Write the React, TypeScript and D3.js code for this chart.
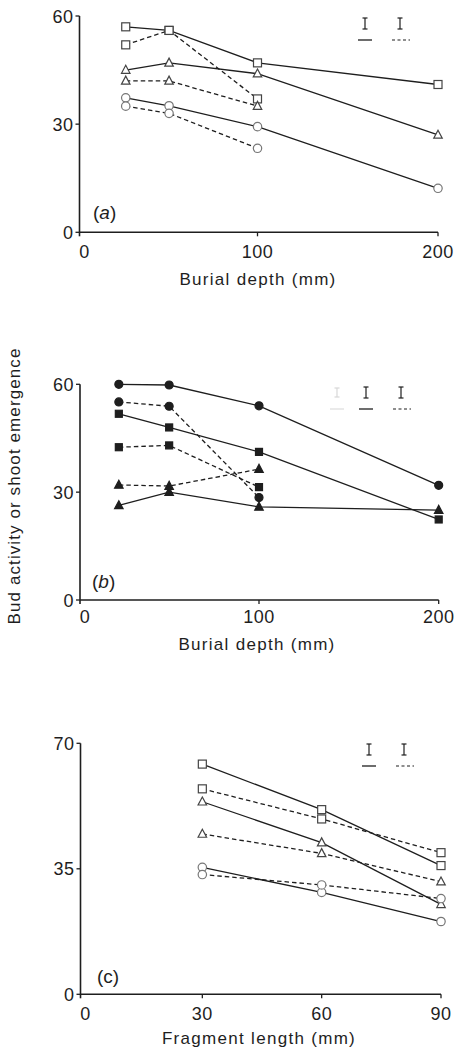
import React from "react";
import * as d3 from "d3";

// ---------- data ----------
const depthA = [27, 51, 100, 200];
const depthB = [22, 50, 100, 200];
const lengthC = [30, 60, 90];

const aSquareSolid = [57, 56, 47, 41];
const aSquareDashed = [52, 56, 37];
const aTriSolid = [45, 47, 44, 27];
const aTriDashed = [42, 42, 35];
const aCircleSolid = [37.3, 35.1, 29.3, 12.2];
const aCircleDashed = [35, 33, 23.3];

const bCircleSolid = [60, 59.8, 54, 31.9];
const bCircleDashed = [55.1, 53.9, 28.5];
const bSquareSolid = [51.8, 48, 41.2, 22.4];
const bSquareDashed = [42.5, 43, 31.4];
const bTriDashed = [32, 31.7, 36.4];
const bTriSolid = [26.3, 30, 25.9, 25];

const cSquareSolid = [64.2, 51.5, 35.9];
const cSquareDashed = [57.3, 48.9, 39.5];
const cTriSolid = [53.7, 42.3, 25.1];
const cTriDashed = [44.7, 39.3, 31.4];
const cCircleSolid = [35.4, 28.4, 20.3];
const cCircleDashed = [33.4, 30.5, 26.7];

const ticksA_X = [0, 100, 200];
const ticksA_Y = [0, 30, 60];
const ticksC_X = [0, 30, 60, 90];
const ticksC_Y = [0, 35, 70];

type Shape = "square" | "triangle" | "circle";
type Series = { x: number[]; y: number[]; shape: Shape; filled: boolean; dashed: boolean };

const FONT = "'Liberation Sans', Arial, Helvetica, sans-serif";
const INK = "#1e1e1e";

function Marker({ shape, filled, cx, cy }: { shape: Shape; filled: boolean; cx: number; cy: number }) {
  const fill = filled ? INK : "#fff";
  const stroke = filled ? INK : shape === "circle" ? "#777" : "#444";
  const sw = 1.2;
  if (shape === "square") {
    const s = filled ? 7 : 8;
    return <rect x={cx - s / 2} y={cy - s / 2} width={s} height={s} fill={fill} stroke={stroke} strokeWidth={sw} />;
  }
  if (shape === "circle") {
    return <circle cx={cx} cy={cy} r={filled ? 4 : 4.2} fill={fill} stroke={stroke} strokeWidth={sw} />;
  }
  const h = 7.5;
  const w = 8.5;
  const p = `M${cx},${cy - h / 2 - 1}L${cx + w / 2},${cy + h / 2 - 0.5}L${cx - w / 2},${cy + h / 2 - 0.5}Z`;
  return <path d={p} fill={fill} stroke={stroke} strokeWidth={sw} />;
}

function ErrBar({ x, y, h, color }: { x: number; y: number; h: number; color: string }) {
  return (
    <g stroke={color} strokeWidth={1.2}>
      <line x1={x} x2={x} y1={y} y2={y + h} />
      <line x1={x - 2.5} x2={x + 2.5} y1={y} y2={y} />
      <line x1={x - 2.5} x2={x + 2.5} y1={y + h} y2={y + h} />
    </g>
  );
}

type PanelProps = {
  xDomain: [number, number];
  xRange: [number, number];
  yDomain: [number, number];
  yRange: [number, number];
  axisX: number;
  xTicks: number[];
  yTicks: number[];
  series: Series[];
  xTitle: string;
  xTitleX: number;
  xTitleY: number;
  tickLabelY: number;
  panelLabel: React.ReactNode;
  panelLabelX: number;
  panelLabelY: number;
  legendX: number;
  legendY: number;
  faintLegend?: boolean;
};

function Panel(p: PanelProps) {
  const x = d3.scaleLinear().domain(p.xDomain).range(p.xRange);
  const y = d3.scaleLinear().domain(p.yDomain).range(p.yRange);
  const y0 = y(0);
  const yTop = y(p.yDomain[1]);
  const line = d3
    .line<[number, number]>()
    .x((d) => x(d[0]))
    .y((d) => y(d[1]));
  return (
    <g>
      {/* axes */}
      <line x1={p.axisX} x2={p.axisX} y1={yTop} y2={y0 + 4} stroke={INK} strokeWidth={1.6} />
      <line x1={p.axisX} x2={x(p.xDomain[1])} y1={y0} y2={y0} stroke={INK} strokeWidth={1.6} />
      {p.yTicks.map((t) => (
        <g key={"yt" + t}>
          <line x1={p.axisX - 4} x2={p.axisX} y1={y(t)} y2={y(t)} stroke={INK} strokeWidth={1.3} />
          <text x={p.axisX - 6} y={y(t) + 6.5} textAnchor="end" fontSize={18} fontFamily={FONT} fill={INK} letterSpacing={0.5}>
            {t}
          </text>
        </g>
      ))}
      {p.xTicks.map((t) => (
        <g key={"xt" + t}>
          {t !== 0 && <line x1={x(t)} x2={x(t)} y1={y0} y2={y0 + 4} stroke={INK} strokeWidth={1.3} />}
          <text
            x={t === 0 ? p.axisX + 5 : x(t)}
            y={p.tickLabelY}
            textAnchor="middle"
            fontSize={18}
            fontFamily={FONT}
            fill={INK}
            letterSpacing={0.5}
          >
            {t}
          </text>
        </g>
      ))}
      <text x={p.xTitleX} y={p.xTitleY} textAnchor="middle" fontSize={17} fontFamily={FONT} fill={INK} letterSpacing={1.3}>
        {p.xTitle}
      </text>
      <text x={p.panelLabelX} y={p.panelLabelY} fontSize={19} fontFamily={FONT} fill={INK}>
        {p.panelLabel}
      </text>
      {/* series */}
      {p.series.map((s, i) => {
        const pts: [number, number][] = s.y.map((v, j) => [s.x[j], v]);
        return (
          <g key={"s" + i}>
            <path
              d={line(pts) || ""}
              fill="none"
              stroke={INK}
              strokeWidth={1.3}
              strokeDasharray={s.dashed ? "4.5,3" : undefined}
            />
            {pts.map((d, j) => (
              <Marker key={j} shape={s.shape} filled={s.filled} cx={x(d[0])} cy={y(d[1])} />
            ))}
          </g>
        );
      })}
      {/* error-bar legend */}
      {p.faintLegend && (
        <g>
          <ErrBar x={p.legendX - 29} y={p.legendY + 1} h={9} color="#d8d8d8" />
          <line x1={p.legendX - 36} x2={p.legendX - 22} y1={p.legendY + 22} y2={p.legendY + 22} stroke="#ddd" strokeWidth={1.2} />
        </g>
      )}
      <ErrBar x={p.legendX} y={p.legendY} h={11} color={INK} />
      <line x1={p.legendX - 7} x2={p.legendX + 7} y1={p.legendY + 22} y2={p.legendY + 22} stroke={INK} strokeWidth={1.3} />
      <ErrBar x={p.legendX + 35} y={p.legendY} h={11} color={INK} />
      <line
        x1={p.legendX + 27}
        x2={p.legendX + 45}
        y1={p.legendY + 22}
        y2={p.legendY + 22}
        stroke={INK}
        strokeWidth={1.2}
        strokeDasharray="3,2.5"
      />
    </g>
  );
}

export default function App() {
  const seriesA: Series[] = [
    { x: depthA, y: aSquareSolid, shape: "square", filled: false, dashed: false },
    { x: depthA, y: aSquareDashed, shape: "square", filled: false, dashed: true },
    { x: depthA, y: aTriSolid, shape: "triangle", filled: false, dashed: false },
    { x: depthA, y: aTriDashed, shape: "triangle", filled: false, dashed: true },
    { x: depthA, y: aCircleSolid, shape: "circle", filled: false, dashed: false },
    { x: depthA, y: aCircleDashed, shape: "circle", filled: false, dashed: true },
  ];
  const seriesB: Series[] = [
    { x: depthB, y: bCircleSolid, shape: "circle", filled: true, dashed: false },
    { x: depthB, y: bCircleDashed, shape: "circle", filled: true, dashed: true },
    { x: depthB, y: bSquareSolid, shape: "square", filled: true, dashed: false },
    { x: depthB, y: bSquareDashed, shape: "square", filled: true, dashed: true },
    { x: depthB, y: bTriDashed, shape: "triangle", filled: true, dashed: true },
    { x: depthB, y: bTriSolid, shape: "triangle", filled: true, dashed: false },
  ];
  const seriesC: Series[] = [
    { x: lengthC, y: cSquareSolid, shape: "square", filled: false, dashed: false },
    { x: lengthC, y: cSquareDashed, shape: "square", filled: false, dashed: true },
    { x: lengthC, y: cTriSolid, shape: "triangle", filled: false, dashed: false },
    { x: lengthC, y: cTriDashed, shape: "triangle", filled: false, dashed: true },
    { x: lengthC, y: cCircleSolid, shape: "circle", filled: false, dashed: false },
    { x: lengthC, y: cCircleDashed, shape: "circle", filled: false, dashed: true },
  ];
  return (
    <svg
      width={457}
      height={1049}
      style={{ position: "absolute", left: 0, top: 0, background: "#fff" }}
    >
      <rect x={0} y={0} width={457} height={1049} fill="#fff" />
      <Panel
        xDomain={[0, 200]}
        xRange={[77, 438]}
        yDomain={[0, 60]}
        yRange={[232.3, 16]}
        axisX={79.5}
        xTicks={ticksA_X}
        yTicks={ticksA_Y}
        series={seriesA}
        xTitle="Burial depth (mm)"
        xTitleX={258}
        xTitleY={285}
        tickLabelY={258}
        panelLabel={<tspan>(<tspan fontStyle="italic">a</tspan>)</tspan>}
        panelLabelX={93}
        panelLabelY={219}
        legendX={365}
        legendY={18}
      />
      <Panel
        xDomain={[0, 200]}
        xRange={[79.3, 438.7]}
        yDomain={[0, 60]}
        yRange={[600, 384.3]}
        axisX={80}
        xTicks={ticksA_X}
        yTicks={ticksA_Y}
        series={seriesB}
        xTitle="Burial depth (mm)"
        xTitleX={257}
        xTitleY={650}
        tickLabelY={623}
        panelLabel={<tspan>(<tspan fontStyle="italic">b</tspan>)</tspan>}
        panelLabelX={92}
        panelLabelY={588}
        legendX={366}
        legendY={387}
        faintLegend
      />
      <Panel
        xDomain={[0, 90]}
        xRange={[83, 441]}
        yDomain={[0, 70]}
        yRange={[994.3, 743.3]}
        axisX={80.5}
        xTicks={ticksC_X}
        yTicks={ticksC_Y}
        series={seriesC}
        xTitle="Fragment length (mm)"
        xTitleX={259}
        xTitleY={1044}
        tickLabelY={1020}
        panelLabel="(c)"
        panelLabelX={97}
        panelLabelY={983}
        legendX={369}
        legendY={744}
      />
      <text
        transform="translate(20,486) rotate(-90)"
        textAnchor="middle"
        fontSize={17}
        fontFamily={FONT}
        fill={INK}
        letterSpacing={1.1}
      >
        Bud activity or shoot emergence
      </text>
    </svg>
  );
}
